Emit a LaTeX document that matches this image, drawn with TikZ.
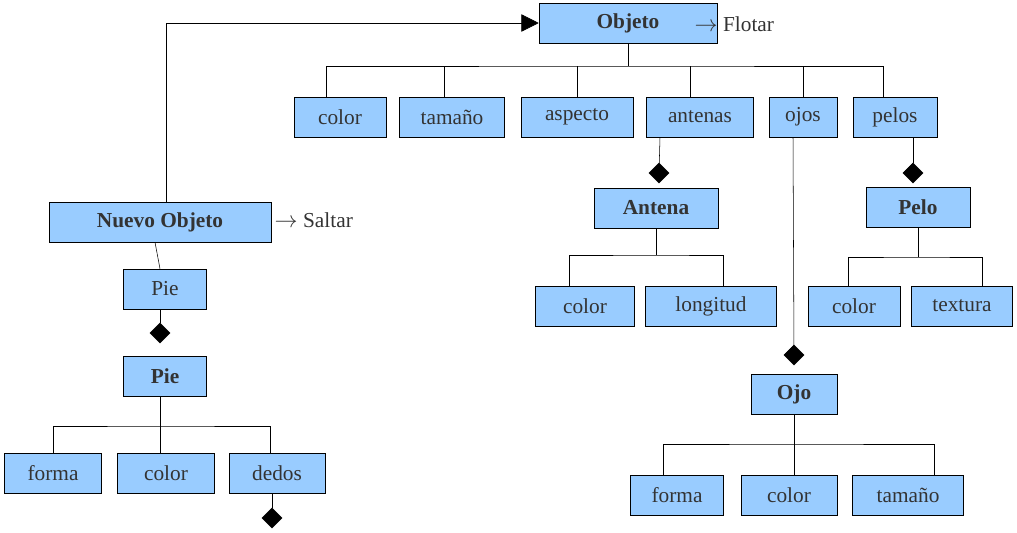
\documentclass[tikz,border=0pt]{standalone}
\usepackage{fontspec}
\setmainfont{Liberation Serif}
\usetikzlibrary{shapes.geometric,arrows.meta}
\definecolor{boxblue}{RGB}{153,204,255}
\definecolor{txt}{RGB}{51,51,51}
\tikzset{
  cls/.style={draw=black,fill=boxblue,text=txt,minimum height=30pt,inner sep=0pt,font=\fontsize{16}{18}\selectfont},
  hd/.style={cls,font=\fontsize{16}{18}\selectfont\bfseries},
  agg/.style={diamond,fill=black,draw=black,minimum width=15pt,minimum height=15pt,inner sep=0pt},
  note/.style={text=txt,font=\fontsize{16}{18}\selectfont,anchor=west},
}
\begin{document}
\begin{tikzpicture}[x=0.75pt,y=0.75pt,yscale=-1]
\useasboundingbox (0,0) rectangle (1017,532);

%Objeto and its attributes
\node[hd,minimum width=133.5pt] (obj) at (628,23) {Objeto};
\node[note] (flotar) at (690,24) {$\rightarrow$ Flotar};
\node[cls,minimum width=69pt] (color) at (340,117) {color};
\node[cls,minimum width=79pt] (tam) at (452,117) {tamaño};
\node[cls,minimum width=84pt] (asp) at (577,117) {aspecto};
\node[cls,minimum width=80pt] (ant) at (700,117) {antenas};
\node[cls,minimum width=51pt] (ojos) at (803,117) {ojos};
\node[cls,minimum width=63pt] (pelos) at (895,117) {pelos};
\coordinate (busA) at (628,66);
\draw (obj.south) -- (busA);
\draw ([xshift=-10.5pt]color.north) |- (busA) -| ([xshift=-9pt]pelos.north);
\draw ([xshift=-6pt]tam.north) -- ([xshift=-6pt]tam.north |- busA);
\draw (asp.north) -- (asp.north |- busA);
\draw ([xshift=-7pt]ant.north) -- ([xshift=-7pt]ant.north |- busA);
\draw (ojos.north) -- (ojos.north |- busA);

%Antena
\node[hd,minimum width=93pt] (antena) at (656,208) {Antena};
\node[agg] (dA) at (659,173) {};
\draw ([xshift=-30pt]ant.south) -- (dA);
\node[cls,minimum width=74pt] (acolor) at (585,306) {color};
\node[cls,minimum width=98pt] (alon) at (711,306) {longitud};
\coordinate (busB) at (656,255);
\draw (antena.south) -- (busB);
\draw ([xshift=-12pt]acolor.north) |- (busB) -| ([xshift=9pt]alon.north);

%Pelo
\node[hd,minimum width=78pt] (pelo) at (918,207) {Pelo};
\node[agg] (dP) at (913,173) {};
\draw ([xshift=13.5pt]pelos.south) -- (dP);
\node[cls,minimum width=69pt] (pcolor) at (854,306) {color};
\node[cls,minimum width=76pt] (ptex) at (962,306) {textura};
\coordinate (busC) at (918,257);
\draw (pelo.south) -- (busC);
\draw ([xshift=-4.5pt]pcolor.north) |- (busC) -| ([xshift=15pt]ptex.north);

%Ojo
\node[hd,minimum width=64.5pt] (ojo) at (794,394) {Ojo};
\node[agg] (dO) at (794,355) {};
\draw ([xshift=-7.5pt]ojos.south) -- (dO);
\node[cls,minimum width=70pt] (oforma) at (677,495) {forma};
\node[cls,minimum width=72pt] (ocolor) at (789,495) {color};
\node[cls,minimum width=83pt] (otam) at (908,495) {tamaño};
\coordinate (busD) at (794,444);
\draw (ojo.south) -- (busD);
\draw ([xshift=-10.5pt]oforma.north) |- (busD) -| ([xshift=19.5pt]otam.north);
\draw ([xshift=4pt]ocolor.north) -- ([xshift=4pt]ocolor.north |- busD);

%Nuevo Objeto
\node[hd,minimum width=166.5pt] (nobj) at (160,222) {Nuevo Objeto};
\node[note] (saltar) at (270,220) {$\rightarrow$ Saltar};
\draw[-{Triangle[length=13pt,width=13pt]}] ([xshift=4.5pt]nobj.north) |- (obj.west);
\node[cls,minimum width=62pt] (pie) at (165,289) {Pie};
\draw ([xshift=-3.75pt]nobj.south) -- ([xshift=-3.75pt]pie.north);
\node[agg] (dPie) at (160,333) {};
\draw ([xshift=-3.75pt]pie.south) -- (dPie);
\node[hd,minimum width=62pt] (pieb) at (165,376) {Pie};
\node[cls,minimum width=73pt] (fforma) at (53,473) {forma};
\node[cls,minimum width=73pt] (fcolor) at (166,473) {color};
\node[cls,minimum width=72pt] (fdedos) at (277,473) {dedos};
\coordinate (busE) at (160,426);
\draw ([xshift=-3.75pt]pieb.south) -- (busE);
\draw (fforma.north) |- (busE) -| ([xshift=-5pt]fdedos.north);
\draw ([xshift=-4.5pt]fcolor.north) -- ([xshift=-4.5pt]fcolor.north |- busE);
\node[agg] (dDedos) at (272,518) {};
\draw ([xshift=-3.75pt]fdedos.south) -- (dDedos);
\end{tikzpicture}
\end{document}
